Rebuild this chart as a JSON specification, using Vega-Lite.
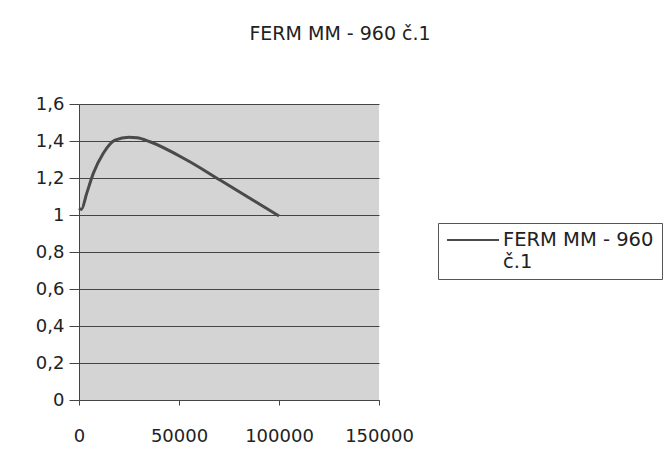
{
  "$schema": "https://vega.github.io/schema/vega-lite/v6.json",
  "width": 300,
  "height": 296,
  "autosize": {"type": "none"},
  "padding": {"left": 79, "top": 104, "right": 288, "bottom": 66},
  "background": "white",
  "config": {
    "font": "DejaVu Sans",
    "view": {"stroke": null, "fill": "#d4d4d4"}
  },
  "title": {
    "text": "FERM MM - 960 č.1",
    "fontSize": 19,
    "fontWeight": "normal",
    "color": "#222",
    "anchor": "middle",
    "dx": 111,
    "offset": 51
  },
  "data": {
    "values": [
      {"x": 0, "y": 1.036, "s": "FERM MM - 960 č.1"},
      {"x": 1200, "y": 1.03, "s": "FERM MM - 960 č.1"},
      {"x": 3850, "y": 1.117, "s": "FERM MM - 960 č.1"},
      {"x": 7150, "y": 1.225, "s": "FERM MM - 960 č.1"},
      {"x": 12150, "y": 1.334, "s": "FERM MM - 960 č.1"},
      {"x": 18000, "y": 1.405, "s": "FERM MM - 960 č.1"},
      {"x": 25000, "y": 1.42, "s": "FERM MM - 960 č.1"},
      {"x": 29000, "y": 1.418, "s": "FERM MM - 960 č.1"},
      {"x": 35500, "y": 1.396, "s": "FERM MM - 960 č.1"},
      {"x": 53850, "y": 1.297, "s": "FERM MM - 960 č.1"},
      {"x": 70500, "y": 1.189, "s": "FERM MM - 960 č.1"},
      {"x": 100000, "y": 0.995, "s": "FERM MM - 960 č.1"}
    ]
  },
  "mark": {"type": "line", "interpolate": "monotone", "strokeWidth": 3},
  "encoding": {
    "x": {
      "field": "x", "type": "quantitative",
      "scale": {"domain": [0, 150000], "nice": false},
      "axis": {
        "title": null, "values": [0, 50000, 100000, 150000], "format": "d",
        "grid": false, "domainColor": "#444", "tickColor": "#444", "tickSize": 5,
        "labelFontSize": 18, "labelColor": "#222", "labelPadding": 22,
        "labelFlush": false
      }
    },
    "y": {
      "field": "y", "type": "quantitative",
      "scale": {"domain": [0, 1.6], "nice": false},
      "axis": {
        "title": null, "values": [0, 0.2, 0.4, 0.6, 0.8, 1, 1.2, 1.4, 1.6],
        "labelExpr": "replace(format(datum.value, ''), '.', ',')",
        "grid": true, "gridColor": "#444", "gridWidth": 1,
        "domainColor": "#444", "tickColor": "#444", "tickSize": 10,
        "labelFontSize": 18, "labelColor": "#222", "labelPadding": 5
      }
    },
    "color": {
      "field": "s", "type": "nominal",
      "scale": {"range": ["#4a4a4a"]},
      "legend": {
        "title": null,
        "orient": "none", "legendX": 359, "legendY": 119,
        "strokeColor": "#555", "padding": 8,
        "symbolType": "stroke", "symbolSize": 2704, "symbolStrokeWidth": 2,
        "labelExpr": "['FERM MM - 960', 'č.1']",
        "labelFontSize": 19.5, "labelColor": "#222", "labelLimit": 300,
        "labelOffset": 3, "labelLineHeight": 26,
        "encoding": {"labels": {"dy": {"value": -18}}, "symbols": {"y": {"value": 9}}}
      }
    }
  }
}
